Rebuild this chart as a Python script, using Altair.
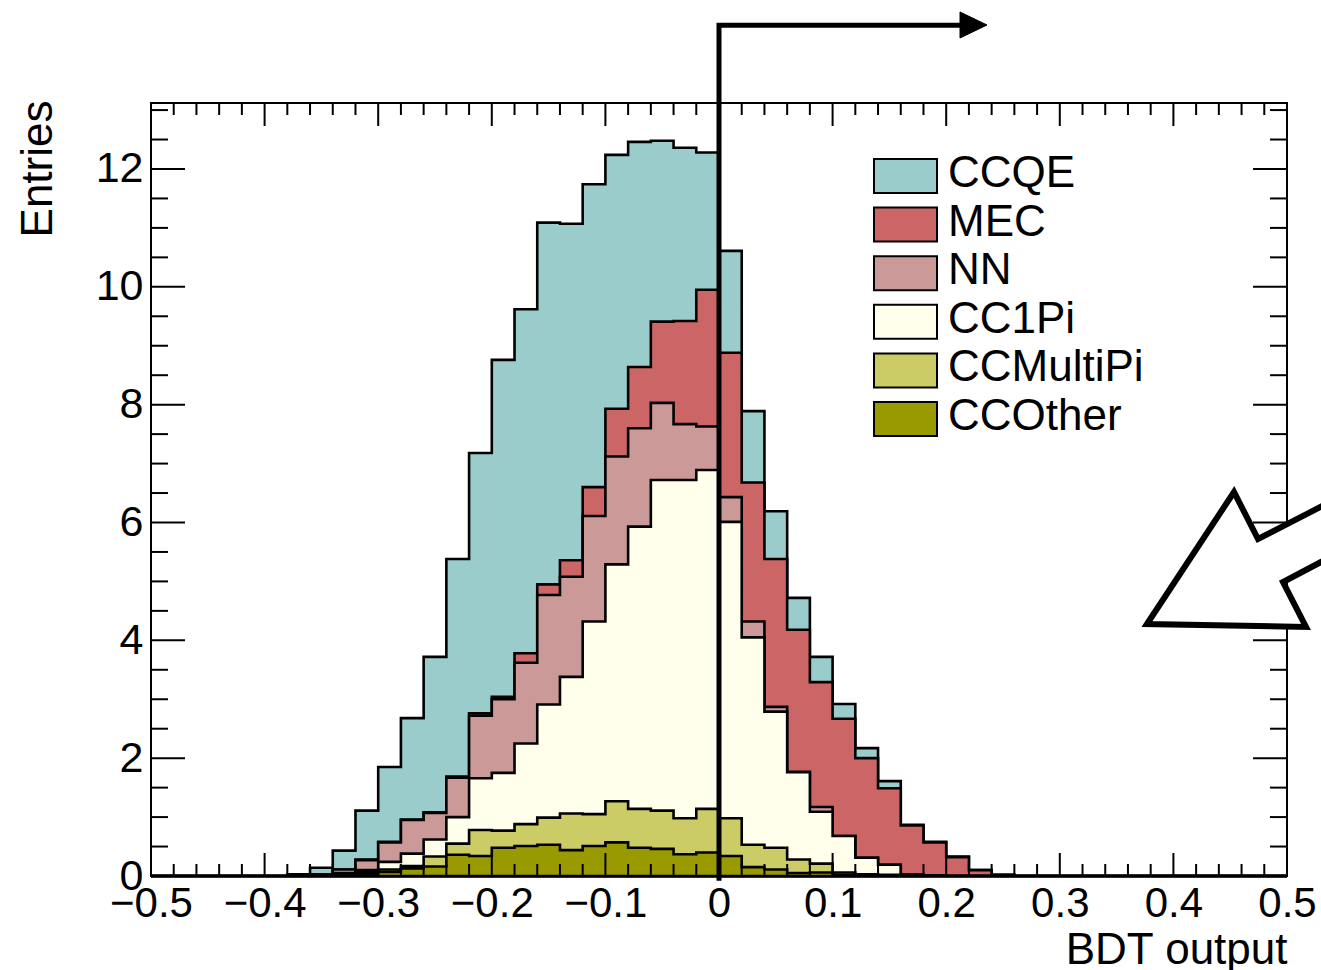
import altair as alt
import numpy as np
import pandas as pd

# ---------------------------------------------------------------------------
# BDT output histogram: 50 bins of width 0.02 on [-0.5, 0.5]
# Per-channel entries, listed from bin FIRST_BIN onwards (all other bins empty)
# ---------------------------------------------------------------------------
N_BINS = 50
X_MIN, X_MAX = -0.5, 0.5
Y_MAX = 13.12
FIRST_BIN = 6

ccqe = [0.03, 0.11, 0.32, 0.83, 1.27, 1.72, 2.64, 3.69, 4.42, 5.72, 5.84, 6.14,
        5.71, 5.14, 4.31, 3.82, 3.07, 2.94, 2.33, 1.73, 1.21, 0.81, 0.54, 0.43,
        0.25, 0.17, 0.12, 0.01, 0.01, 0.01, 0.0, 0.0]
mec = [0.0, 0.0, 0.0, 0.01, 0.01, 0.01, 0.01, 0.02, 0.04, 0.04, 0.16, 0.18,
       0.28, 0.49, 0.81, 1.04, 1.38, 1.75, 2.32, 2.45, 2.36, 2.51, 2.41, 2.12,
       1.99, 1.69, 1.30, 0.83, 0.56, 0.32, 0.10, 0.02]
nn = [0.0, 0.01, 0.06, 0.17, 0.33, 0.57, 0.45, 0.67, 1.06, 1.25, 1.37, 1.86,
      1.70, 1.79, 1.83, 1.67, 1.31, 0.95, 0.74, 0.42, 0.27, 0.08, 0.01, 0.08,
      0.0, 0.0, 0.0, 0.0, 0.0, 0.0, 0.0, 0.0]
cc1pi = [0.0, 0.01, 0.02, 0.03, 0.13, 0.21, 0.29, 0.45, 0.88, 0.98, 1.37, 1.92,
         2.32, 3.27, 4.02, 4.79, 5.61, 5.74, 5.75, 5.03, 3.52, 2.31, 1.48, 0.88,
         0.62, 0.28, 0.17, 0.02, 0.01, 0.0, 0.0, 0.0]
ccmultipi = [0.0, 0.0, 0.01, 0.03, 0.04, 0.04, 0.17, 0.19, 0.44, 0.29, 0.37, 0.46,
             0.62, 0.54, 0.70, 0.66, 0.65, 0.61, 0.74, 0.64, 0.38, 0.37, 0.23, 0.15,
             0.04, 0.02, 0.01, 0.01, 0.0, 0.0, 0.0, 0.0]
ccother = [0.0, 0.01, 0.02, 0.04, 0.07, 0.13, 0.16, 0.36, 0.34, 0.48, 0.51, 0.53,
           0.44, 0.51, 0.57, 0.48, 0.46, 0.37, 0.40, 0.34, 0.15, 0.11, 0.05, 0.06,
           0.02, 0.01, 0.01, 0.0, 0.0, 0.0, 0.0, 0.0]

# legend order (top of the stack first) and fill colours
channels = ["CCQE", "MEC", "NN", "CC1Pi", "CCMultiPi", "CCOther"]
series = [ccqe, mec, nn, cc1pi, ccmultipi, ccother]
colors = ["#9acccc", "#cc6666", "#cc9999", "#ffffeb", "#cccc66", "#999900"]

x_tick_values = [-0.5, -0.4, -0.3, -0.2, -0.1, 0.0, 0.1, 0.2, 0.3, 0.4, 0.5]
y_tick_values = [0, 2, 4, 6, 8, 10, 12]

FONT = "Liberation Sans"
W, H = 1136, 773

x_scale = alt.Scale(domain=[X_MIN, X_MAX], nice=False, zero=False)
y_scale = alt.Scale(domain=[0, Y_MAX], nice=False, zero=False)


def full_bins(values):
    arr = np.zeros(N_BINS)
    arr[FIRST_BIN:FIRST_BIN + len(values)] = values
    return arr


# cumulative stack, bottom (CCOther) to top (CCQE)
edges = np.linspace(X_MIN, X_MAX, N_BINS + 1)
cum = np.zeros(N_BINS)
stack_tops = {}
for name, vals in zip(channels[::-1], series[::-1]):
    cum = cum + full_bins(vals)
    stack_tops[name] = cum.copy()

x_axis = alt.Axis(
    values=x_tick_values,
    labelExpr="datum.value == 0 ? '0' : format(datum.value, '.1f')",
    ticks=False, domain=False, grid=False,
    labelFont=FONT, labelFontSize=42, labelColor="black", labelPadding=7,
    labelFlush=False, labelOverlap=False,
    title="BDT output", titleFont=FONT, titleFontSize=44, titleFontWeight="normal",
    titleColor="black", titleAlign="right", titleAnchor="end",
    titleX=W, titleY=87, titleBaseline="alphabetic",
)
y_axis = alt.Axis(
    values=y_tick_values, format="d",
    ticks=False, domain=False, grid=False,
    labelFont=FONT, labelFontSize=43, labelColor="black", labelPadding=8,
    labelFlush=False, labelOverlap=False,
    title="Entries", titleFont=FONT, titleFontSize=44, titleFontWeight="normal",
    titleColor="black", titleAngle=-90, titleAlign="right", titleAnchor="end",
    titleX=-113, titleY=-3, titleBaseline="middle",
)

def xq(field):
    return alt.X(field, type="quantitative", scale=x_scale, axis=x_axis)

def yq(field):
    return alt.Y(field, type="quantitative", scale=y_scale, axis=y_axis)

layers = []
# stacked histograms, drawn from the top of the stack downwards
for name, color in zip(channels, colors):
    tops = stack_tops[name]
    df = pd.DataFrame({"x": edges, "top": np.append(tops, tops[-1])})
    layers.append(
        alt.Chart(df).mark_area(
            interpolate="step-after", fill=color, stroke="black",
            strokeWidth=2.6, strokeJoin="miter",
        ).encode(x=xq("x"), y=alt.Y("top:Q", scale=y_scale, axis=y_axis, stack=None))
    )

# ROOT-style inward ticks on all four sides of the frame
y_major = pd.DataFrame({"v": y_tick_values})
y_minor = pd.DataFrame({"v": [v for v in np.arange(0, 13.01, 0.5) if v % 2 != 0]})
x_major = pd.DataFrame({"v": x_tick_values})
x_minor = pd.DataFrame({"v": [round(v, 2) for v in np.arange(-0.5, 0.501, 0.02)
                              if abs(round(v * 10) - v * 10) > 1e-6]})

def y_ticks(df, length):
    base = alt.Chart(df).mark_rule(color="black", strokeWidth=2)
    return [base.encode(y=yq("v"), x=alt.value(0), x2=alt.value(length)),
            base.encode(y=yq("v"), x=alt.value(W - length), x2=alt.value(W))]

def x_ticks(df, length):
    base = alt.Chart(df).mark_rule(color="black", strokeWidth=2)
    return [base.encode(x=xq("v"), y=alt.value(H), y2=alt.value(H - length)),
            base.encode(x=xq("v"), y=alt.value(0), y2=alt.value(length))]

layers += y_ticks(y_major, 34) + y_ticks(y_minor, 17)
layers += x_ticks(x_major, 23) + x_ticks(x_minor, 12)

# cut line at BDT = 0 with the arrow showing the selected side
cut_path = pd.DataFrame({"x": [0.0, 0.0, 0.2139], "y": [-0.08, 14.44, 14.44], "o": [0, 1, 2]})
layers.append(
    alt.Chart(cut_path).mark_line(color="black", strokeWidth=5, strokeJoin="miter").encode(
        x=xq("x"), y=yq("y"), order="o:Q",
    )
)

identity = dict(type="identity", scale=1, translate=[0, 0])

arrow_head = [{"type": "Feature", "properties": {},
               "geometry": {"type": "Polygon",
                            "coordinates": [[[809, -91], [836, -78], [809, -65], [809, -91]]]}}]
layers.append(
    alt.Chart(alt.Data(values=arrow_head)).mark_geoshape(
        fill="black", stroke="black", strokeWidth=1, clip=False
    ).project(**identity)
)

# legend
ROW = 48.6
for k, (name, color) in enumerate(zip(channels, colors)):
    top = 56 + ROW * k
    lab = pd.DataFrame({"label": [name]})
    layers.append(
        alt.Chart(lab).mark_rect(fill=color, stroke="black", strokeWidth=2).encode(
            x=alt.value(723), x2=alt.value(786), y=alt.value(top), y2=alt.value(top + 34)
        )
    )
    layers.append(
        alt.Chart(lab).mark_text(
            align="left", baseline="middle", font=FONT, fontSize=44, color="black"
        ).encode(text="label:N", x=alt.value(797), y=alt.value(top + 15))
    )

# hollow pointer arrow on the right
pointer = [{"type": "Feature", "properties": {},
            "geometry": {"type": "Polygon",
                         "coordinates": [[[996, 521], [1083, 389], [1107, 436], [1189, 394],
                                          [1189, 449], [1132, 479], [1155, 524], [996, 521]]]}}]
layers.append(
    alt.Chart(alt.Data(values=pointer)).mark_geoshape(
        fill="white", stroke="black", strokeWidth=6, strokeJoin="miter", clip=False
    ).project(**identity)
)

chart = alt.layer(*layers).properties(
    width=W, height=H,
    autosize=alt.AutoSizeParams(type="none"),
    padding={"left": 151, "top": 103, "right": 34, "bottom": 94},
    background="white",
).configure_view(stroke="black", strokeWidth=2)

chart.save("out.html", embed_options={"renderer": "svg", "actions": False})
